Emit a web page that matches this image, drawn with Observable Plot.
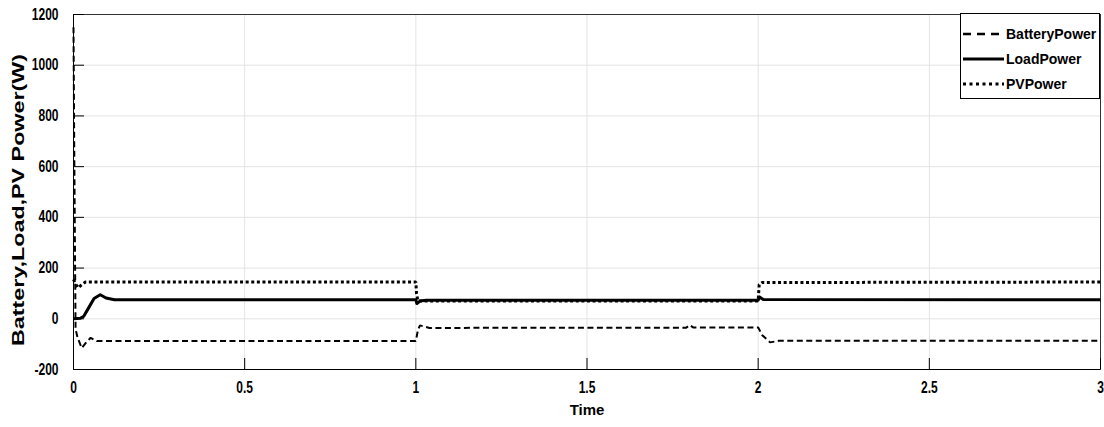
<!DOCTYPE html>
<html>
<head>
<meta charset="utf-8">
<script src="https://cdn.jsdelivr.net/npm/d3@7"></script>
<script src="https://cdn.jsdelivr.net/npm/@observablehq/plot@0.6"></script>
<style>
  html, body { margin: 0; padding: 0; background: #fff; }
  #wrap { position: relative; width: 1104px; height: 427px; font-family: "Liberation Sans", Arial, sans-serif; }
  #legend { position: absolute; left: 960px; top: 13px; width: 140px; height: 86px; border: 1px solid #000; background: #fff; box-sizing: border-box; }
  .row { position: absolute; left: 2px; width: 137px; height: 18px; display: flex; align-items: center; font-weight: bold; font-size: 14px; color: #000; white-space: nowrap; }
  .row svg { flex: 0 0 41px; margin-right: 2px; }
</style>
</head>
<body>
<div id="wrap"></div>
<script>
// ---- data ----
const xTicks = [0, 0.5, 1, 1.5, 2, 2.5, 3];
const yTicks = [-200, 0, 200, 400, 600, 800, 1000, 1200];

const batteryT = [0, 0.002, 0.006, 0.012, 0.024, 0.036, 0.05, 0.068, 1.0, 1.006, 1.012, 1.04, 1.79, 1.8, 1.81, 2.0, 2.012, 2.035, 2.06, 3];
const batteryP = [1150, 700, -40, -75, -115, -95, -75, -88, -88, -45, -26, -36, -35, -25, -34, -34, -65, -93, -87, -87];

const loadT = [0, 0.02, 0.03, 0.045, 0.06, 0.078, 0.095, 0.12, 1.0, 1.003, 1.012, 1.03, 2.0, 2.004, 2.015, 3];
const loadP = [0, 2, 10, 45, 80, 95, 82, 75, 75, 60, 70, 73, 73, 86, 76, 75];

const pvT = [0, 0.005, 0.013, 0.022, 0.035, 1.0, 1.002, 1.006, 2.0, 2.003, 2.012, 3];
const pvP = [155, 140, 122, 132, 145, 145, 100, 70, 70, 135, 143, 145];

const seriesNames = ["BatteryPower", "LoadPower", "PVPower"];
const dashes = ["6,3.5", null, "3,2.6"];
const widths = [2, 3, 3];

const toRows = (ts, vs) => ts.map((t, i) => ({t, p: vs[i]}));
const battery = toRows(batteryT, batteryP);
const load = toRows(loadT, loadP);
const pv = toRows(pvT, pvP);

const font = "Liberation Sans, Arial, sans-serif";

const chart = Plot.plot({
  width: 1104,
  height: 427,
  marginLeft: 73,
  marginRight: 4,
  marginTop: 14,
  marginBottom: 58,
  style: {fontFamily: font, fontSize: "12px", fontWeight: "bold", color: "#000", background: "#fff"},
  x: {domain: [0, 3], ticks: xTicks},
  y: {domain: [-200, 1200], ticks: yTicks},
  marks: [
    Plot.gridX(xTicks, {stroke: "#e3e3e3", strokeOpacity: 1}),
    Plot.gridY(yTicks, {stroke: "#e3e3e3", strokeOpacity: 1}),
    Plot.frame({stroke: "#333"}),
    Plot.axisX({ticks: xTicks, tickSize: -11, fill: "none", label: null}),
    Plot.axisY({ticks: yTicks, tickSize: -11, fill: "none", label: null}),
    Plot.axisX({ticks: xTicks, tickSize: 0, tickPadding: 12, tickFormat: d => String(d),
      label: "Time", labelAnchor: "center", labelArrow: "none", labelOffset: 45, fontSize: 15}),
    Plot.axisY({ticks: yTicks, tickSize: 0, tickPadding: 15, tickFormat: d => String(d),
      label: "Battery,Load,PV Power(W)", labelAnchor: "center", labelArrow: "none", labelOffset: 61, fontSize: 16}),
    Plot.ruleX([0], {stroke: "#000"}),
    Plot.ruleY([-200], {stroke: "#000"}),
    Plot.line(battery, {x: "t", y: "p", stroke: "#000", strokeWidth: widths[0], strokeDasharray: dashes[0], strokeLinecap: "butt", strokeLinejoin: "miter"}),
    Plot.line(load, {x: "t", y: "p", stroke: "#000", strokeWidth: widths[1], strokeLinecap: "butt"}),
    Plot.line(pv, {x: "t", y: "p", stroke: "#000", strokeWidth: widths[2], strokeDasharray: dashes[2], strokeLinecap: "butt", strokeLinejoin: "miter"})
  ]
});

const wrap = document.getElementById("wrap");
wrap.appendChild(chart);

// MATLAB-like tall tick labels
const svg = d3.select(chart);
svg.selectAll('g[aria-label="x-axis tick label"] text, g[aria-label="y-axis tick label"] text')
  .attr("font-size", 12)
  .attr("transform", function() { return (this.getAttribute("transform") || "") + " scale(1,1.3)"; });
svg.selectAll('g[aria-label="y-axis label"] text')
  .attr("textLength", 292).attr("lengthAdjust", "spacingAndGlyphs").attr("dx", -8);

// legend
const legend = document.createElement("div");
legend.id = "legend";
seriesNames.forEach((name, i) => {
  const row = document.createElement("div");
  row.className = "row";
  row.style.top = (11 + i * 25) + "px";
  const da = i === 0 ? "8,6" : (i === 2 ? "3,3.5" : null);
  row.innerHTML = `<svg width="41" height="8"><line x1="0" y1="4" x2="41" y2="4" stroke="#000" stroke-width="${i === 0 ? 2.5 : 3}" ${da ? `stroke-dasharray="${da}"` : ""}/></svg><span>${name}</span>`;
  legend.appendChild(row);
});
wrap.appendChild(legend);
</script>
</body>
</html>
